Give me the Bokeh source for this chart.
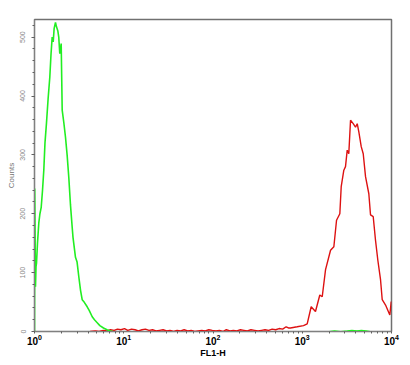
from bokeh.plotting import figure
from bokeh.models import Range1d, FixedTicker, LogAxis, LinearAxis, LogTickFormatter, LogScale
from bokeh.embed import file_html
from bokeh.resources import INLINE

# ---- data ----
green_fl = [1.0, 1.005, 1.026, 1.04, 1.053, 1.08, 1.117, 1.15, 1.189, 1.23, 1.271, 1.31, 1.362,
            1.42, 1.484, 1.53, 1.578, 1.62, 1.66, 1.719, 1.76, 1.824, 1.87, 1.92, 1.95, 1.991,
            2.043, 2.13, 2.225, 2.32, 2.422, 2.53, 2.644, 2.70, 2.879, 3.0, 3.136, 3.28,
            3.422, 3.6, 3.894, 4.1, 4.432, 4.7, 5.043, 5.4, 5.93, 6.5, 7.11, 7.6]
green_counts = [0, 243, 76, 110, 116, 150, 184, 200, 211, 240, 274, 320, 354,
                395, 432, 470, 500, 492, 515, 525, 518, 511, 500, 472, 478, 489,
                376, 355, 330, 300, 262, 215, 177, 160, 126, 118, 93, 70,
                54, 50, 42, 36, 25, 20, 15, 10, 6, 3, 1, 0]

green_tail_fl = [2000, 2300, 2700, 3200, 3600, 4100, 4600, 5200, 5800]
green_tail_counts = [0, 1, 0, 1, 2, 1, 2, 1, 0]

red_fl = [4.2, 4.8, 5.3, 5.9, 6.5, 7.1, 7.8, 8.5, 9.3, 10.2, 11.1, 12.2, 13.4, 14.6, 16.0,
          17.5, 19.2, 21.0, 23.0, 25.2, 27.6, 30.2, 33.0, 36.2, 39.6, 43.4, 47.5, 52.0,
          57.0, 62.4, 68.3, 74.8, 81.9, 89.7, 98.2, 108, 118, 129, 141, 155, 169, 185,
          203, 222, 243, 266, 292, 320, 350, 383, 420, 460, 503, 551, 603, 660, 700,
          738, 878, 1033, 1136, 1259, 1407, 1573, 1674, 1824, 2075, 2260, 2422, 2637,
          2732, 2923, 3052, 3190, 3324, 3475, 3724, 3953, 4131, 4305, 4580, 4822, 5117,
          5572, 5821, 6240, 6620, 7030, 7535, 7872, 8577, 9577, 9930]
red_counts = [0, 1, 0, 2, 1, 3, 2, 4, 3, 5, 2, 4, 3, 1, 3,
              4, 2, 3, 1, 2, 3, 1, 2, 0, 2, 1, 3, 1,
              2, 0, 1, 2, 1, 3, 2, 1, 2, 0, 3, 1, 2, 1,
              3, 2, 1, 3, 2, 1, 2, 3, 2, 4, 3, 5, 4, 8, 6,
              6, 8, 10, 13, 42, 34, 62, 59, 105, 138, 144, 189, 200,
              246, 274, 280, 308, 302, 359, 353, 347, 353, 339, 314, 302, 263,
              234, 198, 195, 155, 121, 88, 54, 45, 28, 51]

x_major = [1, 10, 100, 1000, 10000]
y_major = [0, 100, 200, 300, 400, 500]

# ---- figure ----
p = figure(width=410, height=365, x_axis_type=None, y_axis_type=None,
           x_range=Range1d(1, 10000), y_range=Range1d(0, 530),
           output_backend="svg", toolbar_location=None,
           min_border_left=34, min_border_right=19, min_border_top=19, min_border_bottom=34)
p.x_scale = LogScale()
p.grid.visible = False
p.outline_line_color = "#707070"
p.outline_line_width = 1.5
p.background_fill_color = "white"
p.border_fill_color = "white"

x_minor = [m * d for d in [1, 10, 100, 1000] for m in range(2, 10)]
xax = LogAxis(ticker=FixedTicker(ticks=x_major, minor_ticks=x_minor),
              formatter=LogTickFormatter(), axis_label="FL1-H")
xax.axis_line_color = "#808080"
xax.major_tick_line_color = "#606060"
xax.minor_tick_line_color = "#606060"
xax.major_tick_out = 2
xax.major_tick_in = 0
xax.minor_tick_out = 2
xax.minor_tick_in = 0
xax.major_label_text_font = "Liberation Sans"
xax.major_label_text_font_style = "bold"
xax.major_label_text_font_size = "10px"
xax.major_label_text_color = "black"
xax.major_label_standoff = 0
xax.axis_label_text_font = "Liberation Sans"
xax.axis_label_text_font_style = "bold"
xax.axis_label_text_font_size = "9px"
xax.axis_label_text_color = "black"
xax.axis_label_standoff = 0
p.add_layout(xax, "below")

y_minor = [v for v in range(0, 540, 20)]
yax = LinearAxis(ticker=FixedTicker(ticks=y_major, minor_ticks=y_minor), axis_label="Counts")
yax.axis_line_color = "#808080"
yax.major_tick_line_color = "#606060"
yax.minor_tick_line_color = "#606060"
yax.major_tick_out = 3
yax.major_tick_in = 0
yax.minor_tick_out = 2
yax.minor_tick_in = 0
yax.major_label_orientation = "vertical"
yax.major_label_text_font = "Liberation Sans"
yax.major_label_text_font_size = "7px"
yax.major_label_text_color = "#888888"
yax.major_label_standoff = 6
yax.axis_label_text_font = "Liberation Sans"
yax.axis_label_text_font_style = "normal"
yax.axis_label_text_font_size = "8px"
yax.axis_label_text_color = "#777777"
yax.axis_label_standoff = 2
p.add_layout(yax, "left")

p.line(red_fl, red_counts, line_color="#dd1111", line_width=1.4)
p.line(green_tail_fl, green_tail_counts, line_color="#22ee22", line_width=1.2)
p.line(green_fl, green_counts, line_color="#22ee22", line_width=1.6)

open("out.html", "w").write(file_html(p, INLINE))
